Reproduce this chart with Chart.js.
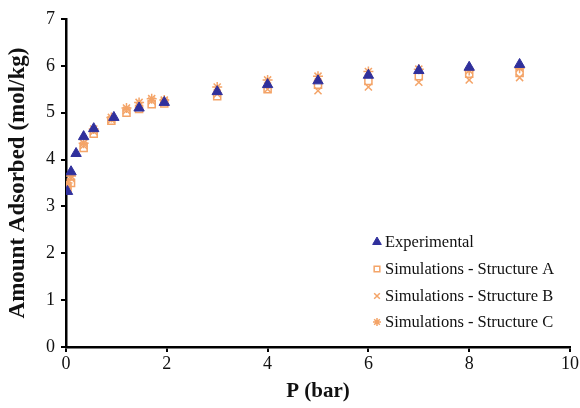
<!DOCTYPE html>
<html>
<head>
<meta charset="utf-8">
<script src="https://cdn.jsdelivr.net/npm/chart.js@4/dist/chart.umd.min.js"></script>
<style>
  body { margin: 0; background: #fff; }
  #wrap { width: 580px; height: 408px; }
</style>
</head>
<body>
<div id="wrap"><canvas id="myChart" width="580" height="408"></canvas></div>
<script>
// pressure (bar) and amount adsorbed (mol/kg)
var expP   = [0.03, 0.1, 0.2, 0.35, 0.55, 0.95, 1.45, 1.95, 3, 4, 5, 6, 7, 8, 9];
var expQ   = [3.32, 3.74, 4.13, 4.49, 4.66, 4.90, 5.10, 5.22, 5.45, 5.60, 5.68, 5.80, 5.90, 5.97, 6.03];

var simP   = [0.03, 0.1, 0.35, 0.55, 0.9, 1.2, 1.45, 1.7, 1.95, 3, 4, 5, 6, 7, 8, 9];
var simA   = [3.40, 3.50, 4.25, 4.55, 4.83, 5.00, 5.08, 5.18, 5.20, 5.35, 5.50, 5.60, 5.68, 5.78, 5.83, 5.85];
var simB   = [3.45, 3.60, 4.30, 4.60, 4.85, 5.05, 5.15, 5.25, 5.25, 5.40, 5.50, 5.47, 5.55, 5.65, 5.70, 5.75];
var simC   = [3.50, 3.65, 4.35, 4.65, 4.90, 5.10, 5.22, 5.30, 5.27, 5.55, 5.70, 5.78, 5.88, 5.93, 5.90, 5.95];

var xTicks = [0, 2, 4, 6, 8, 10];
var labels = ['Experimental', 'Simulations - Structure A', 'Simulations - Structure B', 'Simulations - Structure C'];

function pts(xs, ys) {
    var out = [];
    for (var i = 0; i < xs.length; i++) out.push({x: xs[i], y: ys[i]});
    return out;
}

var blue = '#30309c';
var orange = '#f4a468';
var serif = "'Liberation Serif', 'DejaVu Serif', serif";

// legend drawn inside the plot, bottom right
var innerLegend = {
    id: 'innerLegend',
    afterDraw: function(chart) {
        var ctx = chart.ctx;
        var rows = [242, 269, 296, 322];
        ctx.save();
        ctx.font = '16.5px ' + serif;
        ctx.textBaseline = 'middle';
        chart.data.datasets.forEach(function(ds, i) {
            ctx.fillStyle = ds.backgroundColor;
            ctx.strokeStyle = ds.borderColor;
            ctx.lineWidth = ds.borderWidth;
            Chart.helpers.drawPoint(ctx, {
                pointStyle: ds.pointStyle,
                radius: ds.pointRadius - 1,
                borderWidth: ds.borderWidth,
                rotation: 0
            }, 377, rows[i]);
            ctx.fillStyle = '#111';
            ctx.fillText(ds.label, 385, rows[i] + 1);
        });
        ctx.restore();
    }
};

Chart.defaults.font.family = serif;

var ctx = document.getElementById('myChart').getContext('2d');
var chart = new Chart(ctx, {
    type: 'scatter',
    data: {
        datasets: [{
            label: labels[0],
            data: pts(expP, expQ),
            pointStyle: 'triangle',
            pointRadius: 6,
            backgroundColor: blue,
            borderColor: blue,
            borderWidth: 1
        }, {
            label: labels[1],
            data: pts(simP, simA),
            pointStyle: 'rect',
            pointRadius: 5,
            backgroundColor: 'rgba(255,255,255,0)',
            borderColor: orange,
            borderWidth: 1.5
        }, {
            label: labels[2],
            data: pts(simP, simB),
            pointStyle: 'crossRot',
            pointRadius: 5,
            backgroundColor: orange,
            borderColor: orange,
            borderWidth: 1.5
        }, {
            label: labels[3],
            data: pts(simP, simC),
            pointStyle: 'star',
            pointRadius: 5,
            backgroundColor: orange,
            borderColor: orange,
            borderWidth: 1.5
        }]
    },
    options: {
        responsive: false,
        animation: false,
        layout: { padding: { top: 19, right: 9, left: 0, bottom: 0 } },
        plugins: {
            legend: { display: false },
            tooltip: { enabled: false }
        },
        scales: {
            x: {
                type: 'linear',
                min: 0, max: 10,
                afterBuildTicks: function(s) { s.ticks = xTicks.map(function(v) { return {value: v}; }); },
                ticks: { color: '#111', font: { size: 18 }, padding: 1 },
                grid: { display: true, drawOnChartArea: false, drawTicks: true, tickLength: 5, color: '#000', lineWidth: 2 },
                border: { color: '#000', width: 2.5 },
                title: { display: true, text: 'P (bar)', color: '#111', font: { size: 21, weight: 'bold' }, padding: { top: 2 } },
                afterFit: function(s) { s.height = 61; }
            },
            y: {
                type: 'linear',
                min: 0, max: 7,
                ticks: { stepSize: 1, color: '#111', font: { size: 18 }, padding: 6 },
                grid: { display: true, drawOnChartArea: false, drawTicks: true, tickLength: 5, color: '#000', lineWidth: 2 },
                border: { color: '#000', width: 2.5 },
                title: { display: true, text: 'Amount Adsorbed (mol/kg)', color: '#111', font: { size: 23, weight: 'bold' }, padding: { bottom: 2 } },
                afterFit: function(s) { s.width = 66; }
            }
        }
    },
    plugins: [innerLegend]
});
</script>
</body>
</html>
